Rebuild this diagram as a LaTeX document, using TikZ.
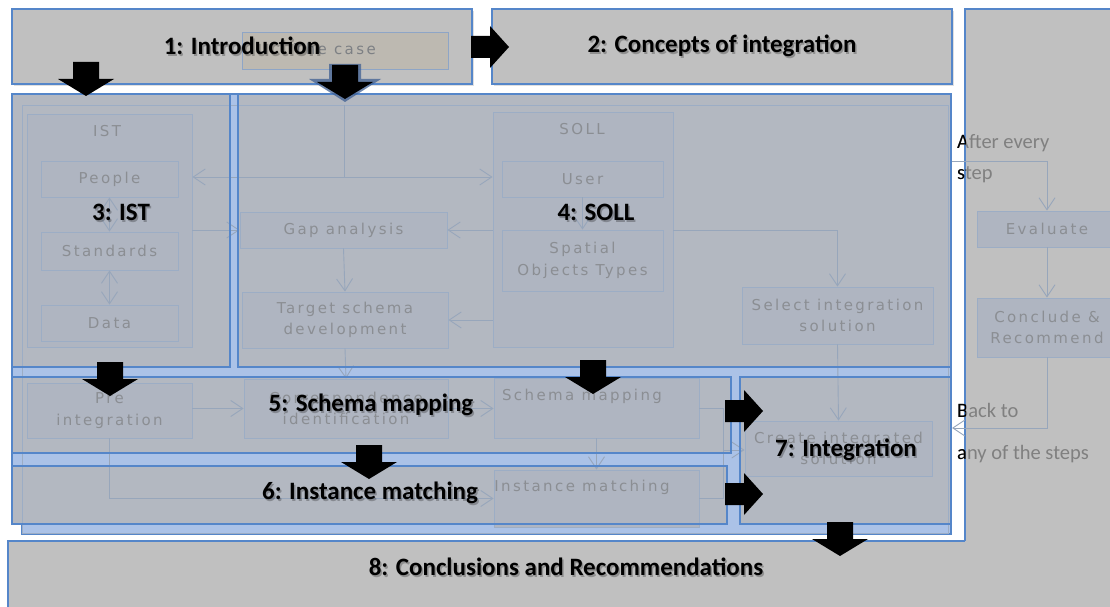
\documentclass[tikz,border=0pt]{standalone}
\usepackage{fontspec}
\setmainfont{Carlito}
\newfontfamily\innerfont[LetterSpace=16]{DejaVu Sans}
\usetikzlibrary{arrows.meta,shadows}
\definecolor{bgray}{HTML}{C0C0C0}
\definecolor{bblue}{HTML}{5586C9}
\definecolor{ovl}{HTML}{B3B8C1}
\definecolor{band}{HTML}{ABC2E7}
\definecolor{iline}{HTML}{97A6BB}
\definecolor{iedge}{HTML}{9CADC5}
\definecolor{ifill}{HTML}{AFB5C1}
\definecolor{itext}{HTML}{8B8E93}
\definecolor{casefill}{HTML}{BDB9B1}
\definecolor{sidetext}{HTML}{808080}
\definecolor{arrshadow}{HTML}{3F5F92}
\tikzset{
 stagefill/.style={fill=#1, draw=none, inner sep=0, outer sep=0},
 stageline/.style={draw=bblue, line width=1.4pt},
 topbox/.style={fill=bgray, draw=bblue, line width=1.4pt, inner sep=0,
   drop shadow={shadow xshift=2pt, shadow yshift=-2pt, opacity=.25}},
 lbl/.style={font=\bfseries\fontsize{25}{30}\selectfont, text=black, inner sep=0},
 lblshadow/.style={font=\bfseries\fontsize{25}{30}\selectfont, text=black, opacity=.25, inner sep=0},
 ibox/.style={draw=iedge, fill=ifill, line width=0.9pt, inner sep=0, text=itext,
   font=\innerfont\fontsize{15}{21.5}\selectfont, align=center},
 itxt/.style={text=itext, inner sep=0, font=\innerfont\fontsize{15}{21.5}\selectfont, align=center},
 iline/.style={draw=iline, line width=0.9pt},
 ilink/.style={draw=iline, line width=0.9pt, -{Straight Barb[length=12pt,width=16pt]}},
 ilink2/.style={draw=iline, line width=0.9pt, {Straight Barb[length=12pt,width=16pt]}-{Straight Barb[length=12pt,width=16pt]}},
 sidetxt/.style={anchor=west, inner sep=0, font=\fontsize{20.5}{24}\selectfont},
 bdown/.pic={\fill[black] (-13,0) -- (13,0) -- (13,17) -- (28,17) -- (0,34) -- (-28,17) -- (-13,17) -- cycle;},
 bdownshadow/.pic={\fill[arrshadow, opacity=.75] (-16,0) -- (16,0) -- (16,15) -- (36,15) -- (0,38) -- (-36,15) -- (-16,15) -- cycle;},
 bright/.pic={\fill[black] (0,-11) -- (19,-11) -- (19,-21) -- (38,0) -- (19,21) -- (19,11) -- (0,11) -- cycle;}
}
\newcommand\shlabel[4]{%
 \node[lblshadow] at ({#2+1.5},{#3+2}) {#4};
 \node[lbl] (#1) at (#2,#3) {#4};}
\newcommand\sidetext[3]{%
 \node[sidetxt, text=sidetext] (#1) at (957,#2) {#3};
 \begin{scope}\clip (950,0) rectangle (965,607);
 \node[sidetxt, text=black] at (957,#2) {#3};
 \end{scope}}
\begin{document}
\begin{tikzpicture}[x=1pt,y=-1pt]
\useasboundingbox (0,0) rectangle (1110,607);
\fill[white] (0,0) rectangle (1110,607);

% right panel and bottom box
\fill[bgray] (965,9) rectangle (1110,607);
\fill[bgray] (8,541) rectangle (1110,607);
\draw[stageline] (965,541) -- (965,9) -- (1112,9);
\draw[stageline] (8,609) -- (8,541) -- (965,541);

% top boxes
\node[topbox, minimum width=460, minimum height=75] (s1) at (242,46.5) {};
\node[topbox, minimum width=460, minimum height=75] (s2) at (722,46.5) {};
\node[fill=casefill, draw=iedge!80!bblue, line width=1pt, minimum width=206, minimum height=37, inner sep=0] (thecase) at (345,51.5) {};
\node[itxt, text=itext!90!black] (thecasetext) at (335,49) {The case};

% underlay band
\filldraw[fill=band, draw=bblue, line width=1.2pt] (12,94) -- (951,94) -- (951,534) -- (22,534) -- (22,524) -- (12,524) -- cycle;

% stage overlay fills
\node[stagefill=ovl, minimum width=218, minimum height=273] (s3) at (121,230.5) {};
\node[stagefill=ovl, minimum width=713, minimum height=273] (s4) at (594.5,230.5) {};
\node[stagefill=ovl, minimum width=719, minimum height=76] (s5) at (371.5,415) {};
\node[stagefill=ovl, minimum width=715, minimum height=58] (s6) at (369.5,495) {};
\node[stagefill=ovl, minimum width=211, minimum height=147] (s7) at (845.5,450.5) {};

% original container frame
\draw[iedge, line width=.8pt] (22,105) rectangle (948,533);

% IST
\node[ibox, minimum width=165, minimum height=233] (istc) at (109.5,230.5) {};
\node[itxt] (isttitle) at (107,131) {IST};
\node[ibox, minimum width=137, minimum height=36] (people) at (109.5,179) {People};
\node[ibox, minimum width=137, minimum height=38] (standards) at (109.5,251) {Standards};
\node[ibox, minimum width=137, minimum height=36] (data) at (109.5,323) {Data};
\draw[ilink2] (people.south) -- (standards.north);
\draw[ilink2] (standards.south) -- (data.north);

% SOLL
\node[ibox, minimum width=180, minimum height=235] (sollc) at (583,229.5) {};
\node[itxt] (solltitle) at (582,129) {SOLL};
\node[ibox, minimum width=161, minimum height=36] (user) at (582.5,179) {User};
\node[ibox, minimum width=161, minimum height=61] (spatial) at (582.5,260.5) {Spatial\\Objects Types};
\draw[ilink] (user.south) -- (spatial.north);

% middle
\node[ibox, minimum width=207, minimum height=36] (gap) at (343.5,230) {Gap analysis};
\node[ibox, minimum width=206, minimum height=56] (target) at (345,320) {Target schema\\development};
\node[ibox, minimum width=191, minimum height=57] (select) at (837.5,315.5) {Select integration\\solution};
\node[ibox, minimum width=187, minimum height=55] (create) at (838.5,448.5) {Create integrated\\solution};

\coordinate (tsplit) at (344,105);
\coordinate (tjoin) at (344,177);
\draw[iline] (tsplit) -- (tjoin);
\draw[ilink] (tjoin) -- (istc.east |- tjoin);
\draw[ilink] (tjoin) -- (sollc.west |- tjoin);
\draw[ilink] (istc.east |- gap) -- (gap.west);
\draw[ilink] (sollc.west |- gap) -- (gap.east);
\draw[ilink] (sollc.west |- target) -- (target.east);
\draw[ilink] (gap.south) -- (target.north);
\draw[ilink] (sollc.east |- gap) -| (select.north);
\draw[ilink] (select.south) -- (create.north);

% row 2
\node[ibox, minimum width=165, minimum height=55] (pre) at (109.5,410.5) {Pre\\integration};
\node[ibox, minimum width=204, minimum height=59] (corr) at (346,408.5) {Correspondence\\identification};
\node[ibox, minimum width=205, minimum height=60] (schema) at (596.5,408) {};
\node[itxt] (schematext) at (582,396) {Schema mapping};
\node[ibox, minimum width=205, minimum height=57] (inst) at (596.5,498.5) {};
\node[itxt] (insttext) at (582,487) {Instance matching};
\draw[ilink] (target.south) -- (corr.north);
\draw[ilink] (pre.east |- corr) -- (corr.west);
\draw[ilink] (corr.east) -- (schema.west |- corr);
\draw[ilink] (schema.south) -- (inst.north);
\draw[ilink] (pre.south) |- (inst.west);
\coordinate (mj) at (723,450);
\draw[iline] (schema.east) -| (mj);
\draw[iline] (inst.east) -| (mj);
\draw[ilink] (mj) -- (create.west |- mj);

% stage borders
\draw[stageline] (s3.north west) rectangle (s3.south east);
\draw[stageline] (s4.north west) rectangle (s4.south east);
\draw[stageline] (s5.north west) rectangle (s5.south east);
\draw[stageline] (s6.north west) rectangle (s6.south east);
\draw[stageline] (s7.north west) rectangle (s7.south east);

% right side flow
\node[ibox, minimum width=140, minimum height=36] (eval) at (1047,229) {Evaluate};
\node[ibox, minimum width=140, minimum height=59] (concl) at (1047,327.5) {Conclude \&\\Recommend};
\coordinate (ae) at (952,161);
\coordinate (bk) at (952,428);
\draw[ilink] (ae) -| (eval.north);
\draw[ilink] (eval.south) -- (concl.north);
\draw[ilink] (concl.south) |- (bk);
\sidetext{t1}{143}{After every}
\sidetext{t2}{175}{step}
\sidetext{t3}{410}{Back to}
\sidetext{t4}{454}{any of the steps}

% block arrows
\pic at (345,64) {bdownshadow};
\pic at (86,62) {bdown};
\pic at (345,65) {bdown};
\pic at (110,362) {bdown};
\pic at (593,360) {bdown};
\pic at (369,445) {bdown};
\pic at (840,522) {bdown};
\pic at (471,47) {bright};
\pic at (725,411) {bright};
\pic at (725,494) {bright};

% labels
\shlabel{l1}{242}{46}{1: Introduction}
\shlabel{l2}{722}{46}{2: Concepts of integration}
\shlabel{l3}{121}{212}{3: IST}
\shlabel{l4}{596}{212}{4: SOLL}
\shlabel{l5}{371}{405}{5: Schema mapping}
\shlabel{l6}{370}{493}{6: Instance matching}
\shlabel{l7}{846}{450}{7: Integration}
\shlabel{l8}{566}{567}{8: Conclusions and Recommendations}
\end{tikzpicture}
\end{document}
